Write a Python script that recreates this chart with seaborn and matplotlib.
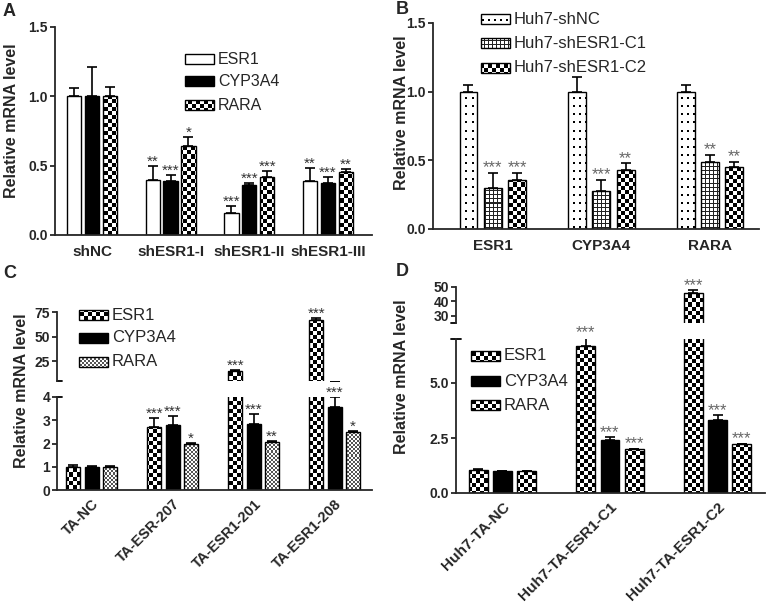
import numpy as np
import pandas as pd
import matplotlib
matplotlib.use('Agg')
import matplotlib.pyplot as plt
import seaborn as sns
from matplotlib.patches import Rectangle
from matplotlib.colors import to_rgb

# ---- data ----
a_groups = ['shNC', 'shESR1-I', 'shESR1-II', 'shESR1-III']
a_series = ['ESR1', 'CYP3A4', 'RARA']
a_mean = [[1.00, 0.40, 0.16, 0.39], [1.00, 0.39, 0.36, 0.375], [1.00, 0.645, 0.42, 0.455]]
a_err = [[0.06, 0.10, 0.05, 0.09], [0.21, 0.04, 0.015, 0.045], [0.065, 0.06, 0.04, 0.02]]
a_stars = [['', '**', '***', '**'], ['', '***', '***', '***'], ['', '*', '***', '**']]

b_groups = ['ESR1', 'CYP3A4', 'RARA']
b_series = ['Huh7-shNC', 'Huh7-shESR1-C1', 'Huh7-shESR1-C2']
b_mean = [[1.00, 1.00, 1.00], [0.30, 0.28, 0.49], [0.36, 0.43, 0.45]]
b_err = [[0.045, 0.11, 0.045], [0.11, 0.08, 0.05], [0.05, 0.05, 0.04]]
b_stars = [['', '', ''], ['***', '***', '**'], ['***', '**', '**']]

c_groups = ['TA-NC', 'TA-ESR-207', 'TA-ESR1-201', 'TA-ESR1-208']
c_series = ['ESR1', 'CYP3A4', 'RARA']
c_mean = [[1.0, 2.7, 15.0, 67.0], [1.0, 2.8, 2.85, 3.55], [1.0, 2.0, 2.08, 2.5]]
c_err = [[0.06, 0.4, 1.0, 2.0], [0.03, 0.4, 0.4, 0.45], [0.05, 0.02, 0.03, 0.03]]
c_stars = [['', '***', '***', '***'], ['', '***', '***', '***'], ['', '*', '**', '*']]

d_groups = ['Huh7-TA-NC', 'Huh7-TA-ESR1-C1', 'Huh7-TA-ESR1-C2']
d_series = ['ESR1', 'CYP3A4', 'RARA']
d_mean = [[1.05, 6.7, 46.0], [1.0, 2.4, 3.3], [0.98, 2.0, 2.22]]
d_err = [[0.03, 0.38, 2.0], [0.02, 0.15, 0.25], [0.02, 0.02, 0.02]]
d_stars = [['', '***', '***'], ['', '***', '***'], ['', '***', '***']]

W, H = 766, 607
sns.set_style('ticks')
plt.rcParams['font.family'] = ['Liberation Sans', 'DejaVu Sans']
plt.rcParams['axes.linewidth'] = 1.3
plt.rcParams['ytick.major.width'] = 1.3
plt.rcParams['ytick.major.size'] = 3.5
plt.rcParams['ytick.major.pad'] = 1.5
plt.rcParams['xtick.major.size'] = 0


def checker(n):
    t = np.zeros((2 * n, 2 * n))
    t[:n, :n] = 1
    t[n:, n:] = 1
    return t


def dots():
    t = np.zeros((8, 6))
    t[3:5, 2:4] = 1
    return t


def grid():
    t = np.zeros((4, 4))
    t[0, :] = 1
    t[:, 0] = 1
    return t


def fill_pattern(ax, patch, tile, dark, light='white'):
    xl, yl = ax.get_xlim(), ax.get_ylim()
    w, h = int(round(ax.bbox.width)), int(round(ax.bbox.height))
    mask = np.tile(tile, (h // tile.shape[0] + 1, w // tile.shape[1] + 1))[:h, :w]
    rgb = np.where(mask[..., None] > 0, np.array(to_rgb(dark)), np.array(to_rgb(light)))
    im = ax.imshow(rgb, extent=(0, 1, 0, 1), transform=ax.transAxes,
                   interpolation='nearest', aspect='auto', zorder=patch.get_zorder() - 0.01)
    im.set_clip_path(patch)
    patch.set_facecolor('none')
    ax.set_xlim(xl)
    ax.set_ylim(yl)


def apply_fill(ax, patch, f):
    patch.set_edgecolor('black')
    patch.set_linewidth(1.0)
    if isinstance(f, str):
        patch.set_facecolor(f)
    else:
        fill_pattern(ax, patch, *f)


def px_axes(fig, x0, y0, x1, y1):
    return fig.add_axes([x0 / W, 1 - y1 / H, (x1 - x0) / W, (y1 - y0) / H])


def panel(axes, ylims, yticks, groups, series, mean, err, stars, fills, xlim,
          width, gap, star_size, star_color):
    rows = [(g, s, v) for s, vals in zip(series, mean) for g, v in zip(groups, vals)]
    df = pd.DataFrame(rows, columns=['group', 'series', 'value'])
    for ax, yl, yt in zip(axes, ylims, yticks):
        sns.barplot(data=df, x='group', y='value', hue='series', order=groups,
                    hue_order=series, palette={s: 'white' for s in series},
                    width=width, gap=gap, errorbar=None, legend=False,
                    saturation=1, ax=ax)
        ax.set_xlim(xlim)
        ax.set_ylim(yl)
        ax.set_yticks(yt)
        ax.set_xlabel('')
        ax.set_ylabel('')
        sns.despine(ax=ax)
        for cont, f, m, e in zip(ax.containers, fills, mean, err):
            xs = [p.get_x() + p.get_width() / 2 for p in cont.patches]
            for p in cont.patches:
                apply_fill(ax, p, f)
            ax.errorbar(xs, m, yerr=[np.zeros(len(e)), e], fmt='none', ecolor='black',
                        elinewidth=1.2, capsize=3.5, capthick=1.2, zorder=3)
        for lbl in ax.get_yticklabels():
            lbl.set_fontweight('bold')
            lbl.set_fontsize(10)
    low = axes[-1]
    top_lim = ylims[-1][1]
    for cont, m, e, st in zip(low.containers, mean, err, stars):
        for p, v, ev, s in zip(cont.patches, m, e, st):
            if not s:
                continue
            tax = axes[0] if (len(axes) > 1 and v > top_lim) else low
            tax.annotate(s, (p.get_x() + p.get_width() / 2, v + ev), xytext=(0, -2),
                         textcoords='offset points', ha='center', va='bottom',
                         fontsize=star_size, color=star_color, annotation_clip=False)
    if len(axes) > 1:
        up = axes[0]
        up.spines['bottom'].set_visible(False)
        up.tick_params(axis='x', bottom=False, labelbottom=False)
    return low


def legend(ov, x, ys, labels, fills, size):
    for y, lab, f in zip(ys, labels, fills):
        r = Rectangle((x, y - 5), 29, 10)
        ov.add_patch(r)
        apply_fill(ov, r, f)
        ov.text(x + 33, y, lab, ha='left', va='center', fontsize=size)


fig = plt.figure(figsize=(W / 100, H / 100), dpi=100)

# A
axA = px_axes(fig, 55, 27, 372, 235)
fA = ['white', 'black', (checker(4), 'black')]
panel([axA], [(0, 1.5)], [[0, 0.5, 1.0, 1.5]], a_groups, a_series, a_mean, a_err,
      a_stars, fA, (-0.47, 3.56), 0.68, 0.2, 11, '#333333')
axA.tick_params(axis='x', labelsize=11, pad=7)
for lbl in axA.get_xticklabels():
    lbl.set_fontweight('bold')

# B
axB = px_axes(fig, 433, 23, 759, 229)
fB = [(dots(), 'black'), (grid(), '#222222'), (checker(4), 'black')]
panel([axB], [(0, 1.5)], [[0, 0.5, 1.0, 1.5]], b_groups, b_series, b_mean, b_err,
      b_stars, fB, (-0.55, 2.45), 0.67, 0.26, 12, '#666666')
axB.tick_params(axis='x', labelsize=11, pad=7)
for lbl in axB.get_xticklabels():
    lbl.set_fontweight('bold')

# C (broken axis)
axC1 = px_axes(fig, 57, 312, 372, 381)
axC2 = px_axes(fig, 57, 397, 372, 490)
fC = [(checker(4), 'black'), 'black', (checker(2), '#555555')]
panel([axC1, axC2], [(5, 75), (0, 4)], [[25, 50, 75], [0, 1, 2, 3, 4]], c_groups,
      c_series, c_mean, c_err, c_stars, fC, (-0.43, 3.46), 0.68, 0.24, 11, '#333333')
axC2.tick_params(axis='x', labelsize=10.5, pad=5)
plt.setp(axC2.get_xticklabels(), rotation=45, ha='right', rotation_mode='anchor',
         fontweight='bold')
axC1.plot([0, 0.016], [0, 0], color='black', lw=1.3, transform=axC1.transAxes, clip_on=False)
axC2.plot([0, 0.016], [1, 1], color='black', lw=1.3, transform=axC2.transAxes, clip_on=False)

# D (broken axis)
axD1 = px_axes(fig, 456, 287, 765, 323)
axD2 = px_axes(fig, 456, 339, 765, 493)
fD = [(checker(4), 'black'), 'black', (checker(4), 'black')]
panel([axD1, axD2], [(25, 50), (0, 7)], [[30, 40, 50], [0, 2.5, 5.0]], d_groups,
      d_series, d_mean, d_err, d_stars, fD, (-0.43, 2.44), 0.675, 0.22, 12, '#666666')
axD2.tick_params(axis='x', labelsize=11, pad=5)
plt.setp(axD2.get_xticklabels(), rotation=45, ha='right', rotation_mode='anchor',
         fontweight='bold')
axD1.plot([-0.016, 0], [0, 0], color='black', lw=1.3, transform=axD1.transAxes, clip_on=False)
axD2.plot([-0.016, 0.016], [1, 1], color='black', lw=1.3, transform=axD2.transAxes, clip_on=False)

# overlay for legends, labels
ov = fig.add_axes([0, 0, 1, 1])
ov.set_xlim(0, W)
ov.set_ylim(H, 0)
ov.axis('off')
legend(ov, 185, [59, 81, 105], a_series, fA, 11.5)
legend(ov, 481, [19, 43, 68], b_series, fB, 12)
legend(ov, 79, [315, 338, 362], c_series, fC, 12)
legend(ov, 471, [356, 381, 405], d_series, fD, 12)

for x, y in [(12, 121), (401, 113), (22, 391), (401, 377)]:
    ov.text(x, y, 'Relative mRNA level', rotation=90, ha='center', va='center',
            fontsize=11.5, fontweight='bold')
for x, y, s in [(9, 12, 'A'), (402, 10, 'B'), (10, 274, 'C'), (402, 272, 'D')]:
    ov.text(x, y, s, ha='center', va='center', fontsize=13, fontweight='bold')

fig.savefig('out.png', dpi=100)
